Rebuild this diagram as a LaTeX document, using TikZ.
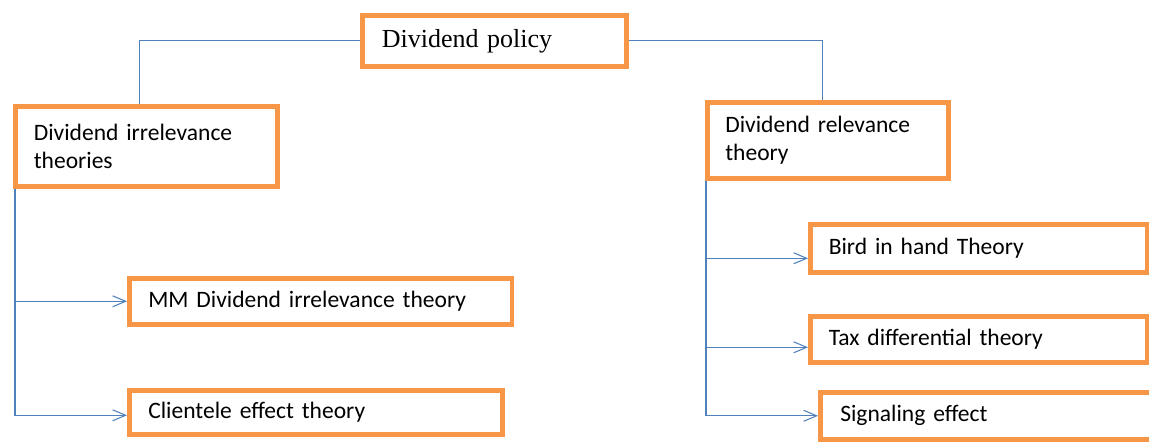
\documentclass[tikz,border=0pt]{standalone}
\usepackage{fontspec}
\setmainfont{Carlito}
\newfontfamily\timesfont{Liberation Serif}
\usetikzlibrary{arrows.meta}
\definecolor{boxorange}{RGB}{247,150,70}
\definecolor{lineblue}{RGB}{79,129,189}

\begin{document}
\begin{tikzpicture}[x=0.02cm,y=-0.02cm]
    \tikzstyle{arrow} = [-{Straight Barb[length=0.26cm,width=0.22cm]},
        draw=lineblue, line width=0.6pt]
    \tikzstyle{link} = [draw=lineblue, line width=0.6pt]
    \tikzstyle{rec} = [rectangle, draw=boxorange, line width=2.6pt, align=left,
        inner xsep=0.28cm, fill=white, font=\fontsize{13.4}{16}\selectfont]

    \useasboundingbox (0,0) rectangle (1149,444);

    \node(policy) [rec, text width=4.5cm, minimum width=5.28cm, minimum height=1.02cm,
        font=\timesfont\fontsize{14.8}{17}\selectfont]
        at (360,13) [anchor=north west]
        {Dividend policy};

    \node(irr) [rec, text width=4.5cm, minimum width=5.24cm, minimum height=1.6cm]
        at (13,104) [anchor=north west]
        {Dividend irrelevance\\theories};

    \node(rel) [rec, text width=4.1cm, minimum width=4.82cm, minimum height=1.52cm]
        at (705,100) [anchor=north west]
        {Dividend relevance\\theory};

    \node(mm) [rec, text width=6.9cm, minimum width=7.66cm, minimum height=0.92cm]
        at (127,276) [anchor=north west]
        {MM Dividend irrelevance theory};

    \node(cli) [rec, text width=6.7cm, minimum width=7.46cm, minimum height=0.88cm]
        at (127,388) [anchor=north west]
        {Clientele effect theory};

    \node(bird) [rec, text width=6cm, minimum width=6.74cm, minimum height=0.96cm]
        at (808,222) [anchor=north west]
        {Bird in hand Theory};

    \node(tax) [rec, text width=6cm, minimum width=6.74cm, minimum height=0.92cm]
        at (808,314) [anchor=north west]
        {Tax differential theory};

    \node(sig) [rec, text width=6.4cm, minimum width=7.2cm, minimum height=0.94cm]
        at (818,390) [anchor=north west]
        {Signaling effect};

    \draw[link] (policy.west) -| ([xshift=-0.14cm]irr.north);
    \draw[link] (policy.east) -| ([xshift=-0.1cm]rel.north);
    \draw[arrow] ([xshift=0.04cm]irr.south west) |- (mm.west);
    \draw[arrow] ([xshift=0.04cm]irr.south west) |- ([yshift=-0.06cm]cli.west);
    \draw[arrow] ([xshift=0.02cm]rel.south west) |- ([yshift=-0.2cm]bird.west);
    \draw[arrow] ([xshift=0.02cm]rel.south west) |- ([yshift=-0.16cm]tax.west);
    \draw[arrow] ([xshift=0.02cm]rel.south west) |- (sig.west);
\end{tikzpicture}
\end{document}
